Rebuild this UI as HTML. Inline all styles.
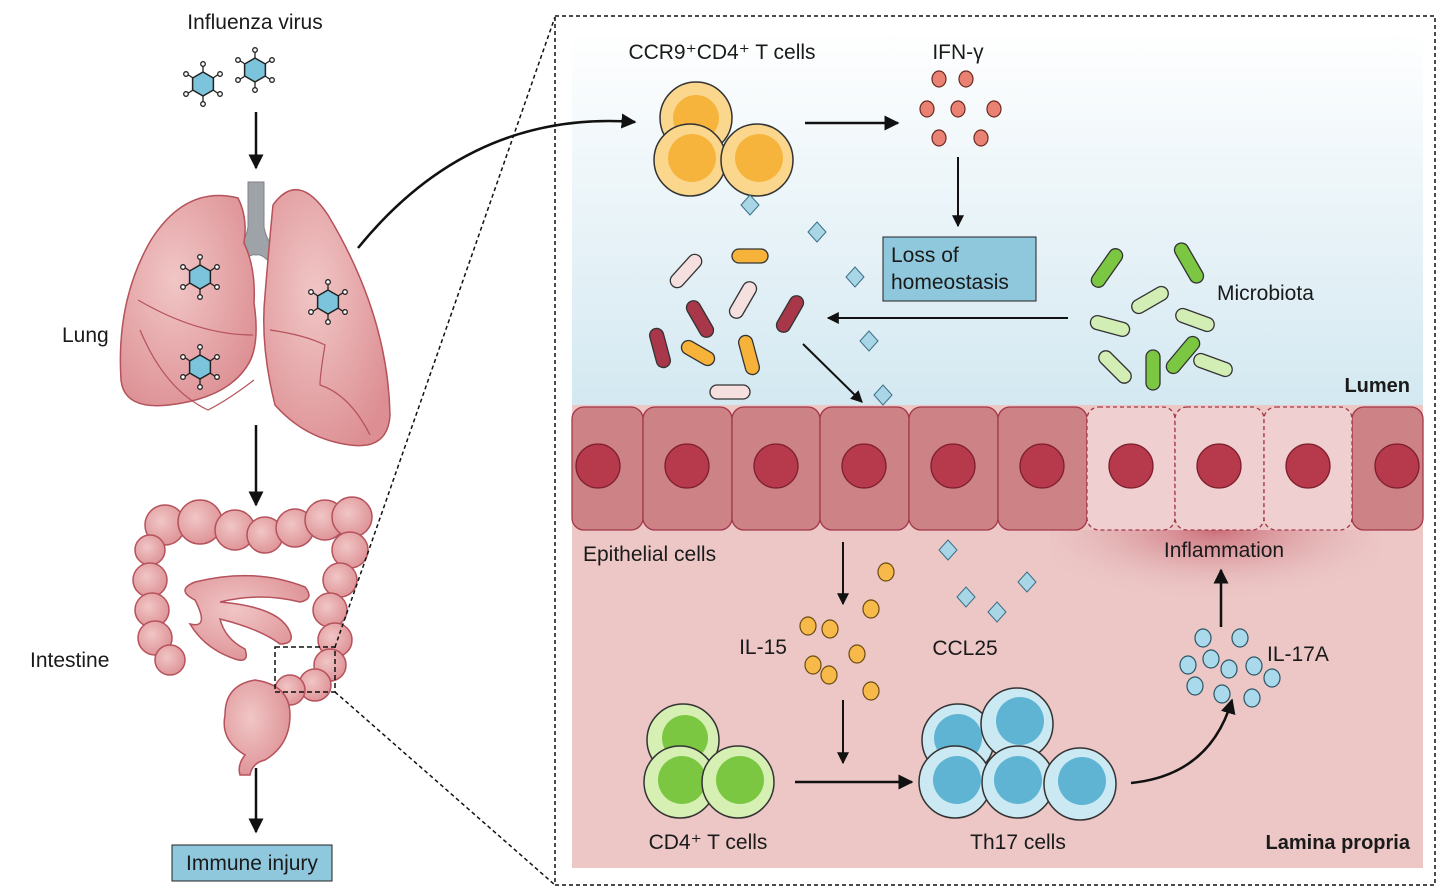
<!DOCTYPE html>
<html><head><meta charset="utf-8"><style>
html,body{margin:0;padding:0;background:#fff;}
svg{display:block;}
text{font-family:"Liberation Sans",Arial,sans-serif;fill:#1a1a1a;}
</style></head><body>
<svg width="1440" height="891" viewBox="0 0 1440 891" xmlns="http://www.w3.org/2000/svg">
<defs>
<linearGradient id="lum" x1="0" y1="0" x2="0" y2="1">
<stop offset="0" stop-color="#ffffff"/><stop offset="1" stop-color="#d3e8f1"/></linearGradient>
<radialGradient id="infl" cx="0.5" cy="0" r="0.6">
<stop offset="0" stop-color="#c0505e" stop-opacity="0.75"/><stop offset="1" stop-color="#ecc7c6" stop-opacity="0"/></radialGradient>
<radialGradient id="org" cx="0.4" cy="0.4" r="0.7"><stop offset="0" stop-color="#f1c6c6"/><stop offset="1" stop-color="#dc8e92"/></radialGradient>
<marker id="ah" viewBox="0 0 10 10" refX="9" refY="5" markerWidth="6" markerHeight="6" orient="auto"><path d="M0,0 L10,5 L0,10 z" fill="#111"/></marker>
<g id="virus"><g stroke="#222" stroke-width="1.3" fill="#fff">
<line x1="0" y1="-12" x2="0" y2="-19"/><line x1="0" y1="12" x2="0" y2="19"/>
<line x1="10" y1="-6" x2="16" y2="-10"/><line x1="-10" y1="-6" x2="-16" y2="-10"/>
<line x1="10" y1="6" x2="16" y2="10"/><line x1="-10" y1="6" x2="-16" y2="10"/>
<circle cx="0" cy="-20" r="2.3"/><circle cx="0" cy="20" r="2.3"/><circle cx="17" cy="-10" r="2.3"/><circle cx="-17" cy="-10" r="2.3"/><circle cx="17" cy="10" r="2.3"/><circle cx="-17" cy="10" r="2.3"/></g>
<polygon points="0,-12 10.4,-6 10.4,6 0,12 -10.4,6 -10.4,-6" fill="#7cc3dc" stroke="#222" stroke-width="1.5"/></g>
<g id="dia"><polygon points="0,-10 9,0 0,10 -9,0" fill="#a9d6e6" stroke="#3b6f86" stroke-width="1"/></g>
</defs>

<!-- Left side -->
<text x="255" y="29" font-size="21" text-anchor="middle">Influenza virus</text>
<use href="#virus" x="203" y="84"/><use href="#virus" x="255" y="70"/>
<line x1="256" y1="112" x2="256" y2="168" stroke="#111" stroke-width="2.5" marker-end="url(#ah)"/>
<path d="M248,182 h16 v45 q3,18 20,30 l-12,8 q-10,-12 -16,-10 q-6,-2 -16,10 l-12,-8 q17,-12 20,-30 z" fill="#9ea3a8" stroke="#7d8287"/>
<path d="M238,198 q10,20 6,45 q12,25 10,60 q6,40 -5,60 q-20,35 -80,42 q-45,5 -48,-25 q-5,-80 30,-140 q35,-55 87,-42 z" fill="url(#org)" stroke="#b5525b" stroke-width="1.5"/>
<path d="M138,300 q60,35 115,35 M140,330 q25,60 68,80 q20,-10 46,-30" fill="none" stroke="#b5525b" stroke-width="1.2"/>
<path d="M273,205 q25,-35 55,10 q60,100 62,200 q-2,35 -40,30 q-45,-6 -75,-40 q-15,-60 -10,-110 q5,-60 8,-90 z" fill="url(#org)" stroke="#b5525b" stroke-width="1.5"/>
<path d="M270,330 q35,5 55,15 q-5,30 -5,40 q30,10 50,50" fill="none" stroke="#b5525b" stroke-width="1.2"/>
<use href="#virus" x="200" y="277"/><use href="#virus" x="200" y="367"/><use href="#virus" x="328" y="302"/>
<text x="62" y="342" font-size="21">Lung</text>
<line x1="256" y1="425" x2="256" y2="505" stroke="#111" stroke-width="2.5" marker-end="url(#ah)"/>
<g fill="url(#org)" stroke="#b5525b" stroke-width="1.5">
<circle cx="165" cy="525" r="20"/><circle cx="200" cy="522" r="22"/><circle cx="235" cy="530" r="20"/><circle cx="265" cy="535" r="18"/><circle cx="295" cy="528" r="19"/><circle cx="325" cy="520" r="20"/><circle cx="352" cy="517" r="20"/>
<circle cx="150" cy="550" r="15"/><circle cx="150" cy="580" r="17"/><circle cx="152" cy="610" r="17"/><circle cx="155" cy="638" r="17"/><circle cx="170" cy="660" r="15"/>
<circle cx="350" cy="550" r="18"/><circle cx="340" cy="580" r="17"/><circle cx="330" cy="610" r="17"/><circle cx="335" cy="640" r="17"/><circle cx="330" cy="665" r="16"/><circle cx="315" cy="685" r="16"/><circle cx="290" cy="690" r="15"/>
<path d="M255,680 q-30,5 -30,35 q-5,25 20,40 q-8,10 -5,20 l10,0 q2,-12 15,-15 q25,-15 25,-45 q0,-30 -35,-35 z"/>
<path d="M195,600 q-20,-10 0,-18 q60,-15 110,5 q10,12 -5,15 q-40,-10 -80,0 q60,5 70,30 q5,12 -10,12 q-20,-15 -60,-25 q5,20 25,30 q5,15 -10,10 q-30,-10 -45,-35 q20,5 5,-24 z"/>
</g>
<rect x="275" y="647" width="60" height="45" fill="none" stroke="#111" stroke-width="1.5" stroke-dasharray="5,3"/>
<text x="30" y="667" font-size="21">Intestine</text>
<line x1="256" y1="768" x2="256" y2="832" stroke="#111" stroke-width="2.5" marker-end="url(#ah)"/>
<rect x="172" y="845" width="160" height="36" fill="#8fc8dc" stroke="#222" stroke-width="1"/>
<text x="252" y="870" font-size="21" text-anchor="middle">Immune injury</text>
<line x1="335" y1="647" x2="555" y2="17" stroke="#111" stroke-width="1.5" stroke-dasharray="4,3"/>
<line x1="335" y1="692" x2="555" y2="885" stroke="#111" stroke-width="1.5" stroke-dasharray="4,3"/>

<!-- Right panel -->
<rect x="555" y="16" width="880" height="869" fill="#fff" stroke="#111" stroke-width="1.5" stroke-dasharray="4,3"/>
<rect x="572" y="30" width="851" height="380" fill="url(#lum)"/>
<rect x="572" y="405" width="851" height="463" fill="#ecc7c6"/>
<rect x="1050" y="530" width="330" height="120" fill="url(#infl)"/>
<path d="M358,248 Q470,110 635,122" fill="none" stroke="#111" stroke-width="2.5" marker-end="url(#ah)"/>
<g stroke="#a3384a" stroke-width="1.3" fill="#cd8286">
<rect x="572" y="407" width="71" height="123" rx="12"/>
<rect x="643" y="407" width="89" height="123" rx="12"/>
<rect x="732" y="407" width="88" height="123" rx="12"/>
<rect x="820" y="407" width="89" height="123" rx="12"/>
<rect x="909" y="407" width="89" height="123" rx="12"/>
<rect x="998" y="407" width="89" height="123" rx="12"/>
<rect x="1352" y="407" width="71" height="123" rx="12"/>
</g>
<g stroke="#a3384a" stroke-width="1.3" fill="#efcfcf" stroke-dasharray="4,3">
<rect x="1087" y="407" width="88" height="123" rx="12"/>
<rect x="1175" y="407" width="89" height="123" rx="12"/>
<rect x="1264" y="407" width="88" height="123" rx="12"/>
</g>
<g fill="#b63a4c" stroke="#7e1f2f" stroke-width="1.3">
<circle cx="598" cy="466" r="22"/><circle cx="687" cy="466" r="22"/><circle cx="776" cy="466" r="22"/><circle cx="864" cy="466" r="22"/><circle cx="953" cy="466" r="22"/><circle cx="1042" cy="466" r="22"/><circle cx="1131" cy="466" r="22"/><circle cx="1219" cy="466" r="22"/><circle cx="1308" cy="466" r="22"/><circle cx="1397" cy="466" r="22"/>
</g>
<g stroke="#333" stroke-width="1.5">
<circle cx="696" cy="118" r="36" fill="#fbd78e"/><circle cx="696" cy="118" r="23" fill="#f6b43c" stroke="none"/>
<circle cx="690" cy="160" r="36" fill="#fbd78e"/><circle cx="692" cy="158" r="24" fill="#f6b43c" stroke="none"/>
<circle cx="757" cy="160" r="36" fill="#fbd78e"/><circle cx="759" cy="158" r="24" fill="#f6b43c" stroke="none"/>
</g>
<text x="722" y="59" font-size="21" text-anchor="middle">CCR9⁺CD4⁺ T cells</text>
<line x1="805" y1="123" x2="898" y2="123" stroke="#111" stroke-width="2.5" marker-end="url(#ah)"/>
<text x="958" y="59" font-size="21" text-anchor="middle">IFN-γ</text>
<g fill="#e98272" stroke="#6b2a22" stroke-width="1.2">
<ellipse cx="939" cy="79" rx="7" ry="8"/><ellipse cx="966" cy="79" rx="7" ry="8"/>
<ellipse cx="927" cy="109" rx="7" ry="8"/><ellipse cx="958" cy="109" rx="7" ry="8"/><ellipse cx="994" cy="109" rx="7" ry="8"/>
<ellipse cx="939" cy="138" rx="7" ry="8"/><ellipse cx="981" cy="138" rx="7" ry="8"/></g>
<line x1="958" y1="157" x2="958" y2="226" stroke="#111" stroke-width="2" marker-end="url(#ah)"/>
<rect x="883" y="237" width="153" height="64" fill="#8fc8dc" stroke="#222" stroke-width="1"/>
<text x="891" y="262" font-size="21">Loss of</text>
<text x="891" y="289" font-size="21">homeostasis</text>
<use href="#dia" x="750" y="205"/><use href="#dia" x="817" y="232"/><use href="#dia" x="855" y="277"/><use href="#dia" x="869" y="341"/><use href="#dia" x="883" y="395"/>
<g stroke="#333" stroke-width="1.3">
<rect x="-18" y="-7" width="36" height="14" rx="7" fill="#f7b23a" transform="translate(750,256)"/>
<rect x="-20" y="-7" width="40" height="14" rx="7" fill="#f5e0df" transform="translate(686,271) rotate(-48)"/>
<rect x="-20" y="-7" width="40" height="14" rx="7" fill="#f5e0df" transform="translate(743,300) rotate(-60)"/>
<rect x="-20" y="-7" width="40" height="14" rx="7" fill="#a8374a" transform="translate(700,319) rotate(60)"/>
<rect x="-20" y="-7" width="40" height="14" rx="7" fill="#a8374a" transform="translate(790,314) rotate(-60)"/>
<rect x="-20" y="-7" width="40" height="14" rx="7" fill="#a8374a" transform="translate(660,348) rotate(75)"/>
<rect x="-18" y="-7" width="36" height="14" rx="7" fill="#f7b23a" transform="translate(698,353) rotate(30)"/>
<rect x="-20" y="-7" width="40" height="14" rx="7" fill="#f7b23a" transform="translate(749,355) rotate(75)"/>
<rect x="-20" y="-7" width="40" height="14" rx="7" fill="#f5e0df" transform="translate(730,392)"/>
</g>
<line x1="1068" y1="318" x2="828" y2="318" stroke="#111" stroke-width="2" marker-end="url(#ah)"/>
<line x1="803" y1="344" x2="862" y2="402" stroke="#111" stroke-width="2" marker-end="url(#ah)"/>
<g stroke="#333" stroke-width="1.3">
<rect x="-22" y="-7" width="44" height="14" rx="7" fill="#7cc742" transform="translate(1107,268) rotate(-55)"/>
<rect x="-22" y="-7" width="44" height="14" rx="7" fill="#7cc742" transform="translate(1189,263) rotate(60)"/>
<rect x="-20" y="-7" width="40" height="14" rx="7" fill="#d3eeb5" transform="translate(1150,300) rotate(-30)"/>
<rect x="-20" y="-7" width="40" height="14" rx="7" fill="#d3eeb5" transform="translate(1110,326) rotate(15)"/>
<rect x="-20" y="-7" width="40" height="14" rx="7" fill="#d3eeb5" transform="translate(1195,320) rotate(20)"/>
<rect x="-20" y="-7" width="40" height="14" rx="7" fill="#d3eeb5" transform="translate(1115,367) rotate(45)"/>
<rect x="-20" y="-7" width="40" height="14" rx="7" fill="#7cc742" transform="translate(1153,370) rotate(90)"/>
<rect x="-22" y="-7" width="44" height="14" rx="7" fill="#7cc742" transform="translate(1183,355) rotate(-50)"/>
<rect x="-20" y="-7" width="40" height="14" rx="7" fill="#d3eeb5" transform="translate(1213,365) rotate(20)"/>
</g>
<text x="1217" y="300" font-size="21">Microbiota</text>
<text x="1410" y="392" font-size="20" font-weight="bold" text-anchor="end">Lumen</text>
<text x="583" y="561" font-size="21">Epithelial cells</text>
<text x="1224" y="557" font-size="21" text-anchor="middle">Inflammation</text>
<line x1="843" y1="542" x2="843" y2="604" stroke="#111" stroke-width="2" marker-end="url(#ah)"/>
<g fill="#f7b94a" stroke="#6b4a10" stroke-width="1.2">
<ellipse cx="886" cy="572" rx="8" ry="9"/><ellipse cx="871" cy="609" rx="8" ry="9"/><ellipse cx="808" cy="626" rx="8" ry="9"/><ellipse cx="830" cy="629" rx="8" ry="9"/><ellipse cx="857" cy="654" rx="8" ry="9"/><ellipse cx="813" cy="665" rx="8" ry="9"/><ellipse cx="829" cy="675" rx="8" ry="9"/><ellipse cx="871" cy="691" rx="8" ry="9"/></g>
<text x="763" y="654" font-size="21" text-anchor="middle">IL-15</text>
<use href="#dia" x="948" y="550"/><use href="#dia" x="1027" y="582"/><use href="#dia" x="966" y="597"/><use href="#dia" x="997" y="612"/>
<text x="965" y="655" font-size="21" text-anchor="middle">CCL25</text>
<line x1="843" y1="700" x2="843" y2="763" stroke="#111" stroke-width="2" marker-end="url(#ah)"/>
<g stroke="#333" stroke-width="1.5">
<circle cx="683" cy="740" r="36" fill="#d6f0b3"/><circle cx="685" cy="738" r="23" fill="#7cc742" stroke="none"/>
<circle cx="680" cy="782" r="36" fill="#d6f0b3"/><circle cx="682" cy="780" r="24" fill="#7cc742" stroke="none"/>
<circle cx="738" cy="782" r="36" fill="#d6f0b3"/><circle cx="740" cy="780" r="24" fill="#7cc742" stroke="none"/>
</g>
<text x="708" y="849" font-size="21" text-anchor="middle">CD4⁺ T cells</text>
<line x1="795" y1="782" x2="912" y2="782" stroke="#111" stroke-width="2.5" marker-end="url(#ah)"/>
<g stroke="#333" stroke-width="1.5">
<circle cx="958" cy="740" r="36" fill="#cbe9f3"/><circle cx="958" cy="738" r="24" fill="#5fb4d3" stroke="none"/>
<circle cx="1017" cy="724" r="36" fill="#cbe9f3"/><circle cx="1020" cy="721" r="24" fill="#5fb4d3" stroke="none"/>
<circle cx="955" cy="782" r="36" fill="#cbe9f3"/><circle cx="957" cy="780" r="24" fill="#5fb4d3" stroke="none"/>
<circle cx="1018" cy="782" r="36" fill="#cbe9f3"/><circle cx="1018" cy="780" r="24" fill="#5fb4d3" stroke="none"/>
<circle cx="1080" cy="784" r="36" fill="#cbe9f3"/><circle cx="1082" cy="781" r="24" fill="#5fb4d3" stroke="none"/>
</g>
<text x="1018" y="849" font-size="21" text-anchor="middle">Th17 cells</text>
<path d="M1131,783 Q1210,775 1232,700" fill="none" stroke="#111" stroke-width="2.5" marker-end="url(#ah)"/>
<g fill="#a9d9ea" stroke="#2a5566" stroke-width="1.2">
<ellipse cx="1203" cy="638" rx="8" ry="9"/><ellipse cx="1240" cy="638" rx="8" ry="9"/><ellipse cx="1188" cy="665" rx="8" ry="9"/><ellipse cx="1211" cy="659" rx="8" ry="9"/><ellipse cx="1229" cy="669" rx="8" ry="9"/><ellipse cx="1254" cy="666" rx="8" ry="9"/><ellipse cx="1272" cy="678" rx="8" ry="9"/><ellipse cx="1195" cy="686" rx="8" ry="9"/><ellipse cx="1222" cy="694" rx="8" ry="9"/><ellipse cx="1252" cy="698" rx="8" ry="9"/></g>
<text x="1267" y="661" font-size="21">IL-17A</text>
<line x1="1221" y1="627" x2="1221" y2="570" stroke="#111" stroke-width="2.5" marker-end="url(#ah)"/>
<text x="1410" y="849" font-size="20" font-weight="bold" text-anchor="end">Lamina propria</text>
</svg>
</body></html>
